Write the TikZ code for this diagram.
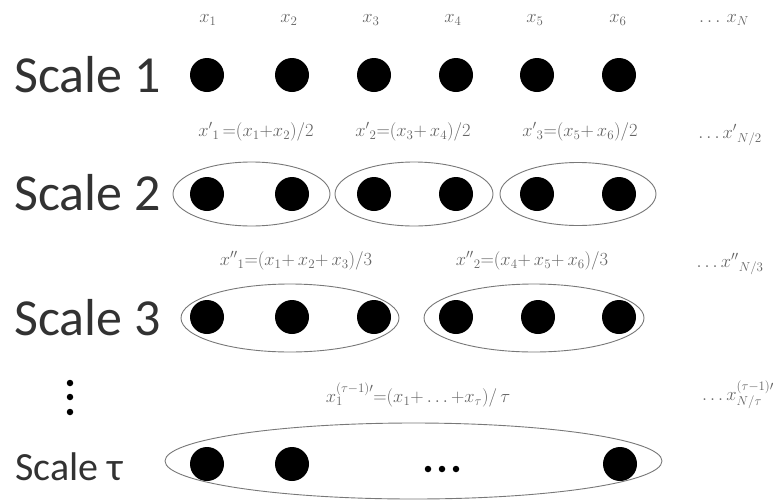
\RequirePackage{fix-cm}
\documentclass[tikz,border=0pt]{standalone}
\usepackage{fontspec}
\setmainfont{Carlito}
\usetikzlibrary{shapes.geometric}
\definecolor{lbl}{RGB}{100,100,100}
\definecolor{ring}{RGB}{120,120,120}
\definecolor{scl}{RGB}{50,50,50}
\tikzset{
  dot/.style={circle,fill=black,inner sep=0pt,minimum size=34pt},
  smalldot/.style={circle,fill=black,inner sep=0pt,minimum size=6.5pt},
  group/.style={ellipse,draw=ring,line width=0.9pt,inner sep=0pt},
  lab/.style={text=lbl,font=\fontsize{18.5}{21}\selectfont,inner sep=0pt},
  scale label/.style={text=scl,font=\fontsize{52}{56}\selectfont,anchor=base west,inner sep=0pt},
  scale small/.style={scale label,font=\fontsize{40}{44}\selectfont}
}
\begin{document}
\begin{tikzpicture}[x=1pt,y=-1pt]
\useasboundingbox[fill=white] (0,0) rectangle (773,501);
% scale labels
\node[scale label] (s1) at (14,92) {Scale 1};
\node[scale label] (s2) at (14,210) {Scale 2};
\node[scale label] (s3) at (14,335) {Scale 3};
\node[scale small] (st) at (15,480) {Scale τ};
\node[smalldot] (v1) at (70,383) {};
\node[smalldot] (v2) at (70,397) {};
\node[smalldot] (v3) at (70,412) {};
% row 1
\foreach \i/\x in {1/207,2/292,3/374,4/456,5/537,6/619}{
  \node[dot] (a\i) at (\x,75) {};
}
\node[lab] (l11) at (208,20) {$x_1$};
\node[lab] (l12) at (289,20) {$x_2$};
\node[lab] (l13) at (371,20) {$x_3$};
\node[lab] (l14) at (453,20) {$x_4$};
\node[lab] (l15) at (535,20) {$x_5$};
\node[lab] (l16) at (618,20) {$x_6$};
\node[lab] (l1N) at (724,20) {$\dots\,x_N$};
% row 2
\node[group,minimum width=157pt,minimum height=64pt] (e21) at (251.5,194) {};
\node[group,minimum width=158pt,minimum height=64pt] (e22) at (414,194) {};
\node[group,minimum width=156pt,minimum height=63pt] (e23) at (578,194) {};
\foreach \i/\x in {1/207,2/292,3/374,4/456,5/537,6/619}{
  \node[dot] (b\i) at (\x,194) {};
}
\node[lab] (l21) at (256,132) {${x'}_1\,{=}(x_1{+}x_2)/2$};
\node[lab] (l22) at (413,132) {${x'}_2{=}(x_3{+}\,x_4)/2$};
\node[lab] (l23) at (580,132) {${x'}_3{=}(x_5{+}\,x_6)/2$};
\node[lab] (l2N) at (730,135) {$\dots {x'}_{N/2}$};
% row 3
\node[group,minimum width=218pt,minimum height=68pt] (e31) at (290,318) {};
\node[group,minimum width=220pt,minimum height=68pt] (e32) at (534,318) {};
\foreach \i/\x in {1/207,2/292,3/374,4/456,5/538,6/619}{
  \node[dot] (c\i) at (\x,317) {};
}
\node[lab] (l31) at (296,261) {${x''}_1{=}(x_1{+}\,x_2{+}\,x_3)/3$};
\node[lab] (l32) at (532,261) {${x''}_2{=}(x_4{+}\,x_5{+}\,x_6)/3$};
\node[lab] (l3N) at (730,264) {$\dots {x''}_{N/3}$};
% row tau
\node[group,minimum width=497pt,minimum height=76pt] (e41) at (413.5,461) {};
\node[dot] (d1) at (207,464) {};
\node[dot] (d2) at (292,464) {};
\node[dot] (d3) at (620,464) {};
\node[smalldot] (h1) at (428,469) {};
\node[smalldot] (h2) at (442,469) {};
\node[smalldot] (h3) at (456,469) {};
\node[lab] (l41) at (418,395) {$x_1^{(\tau-1)\prime}{=}(x_1{+}\dots{+}x_\tau)/\,\tau$};
\node[lab] (l4N) at (738,395) {$\dots x_{N/\tau}^{(\tau-1)\prime}$};
\end{tikzpicture}
\end{document}
